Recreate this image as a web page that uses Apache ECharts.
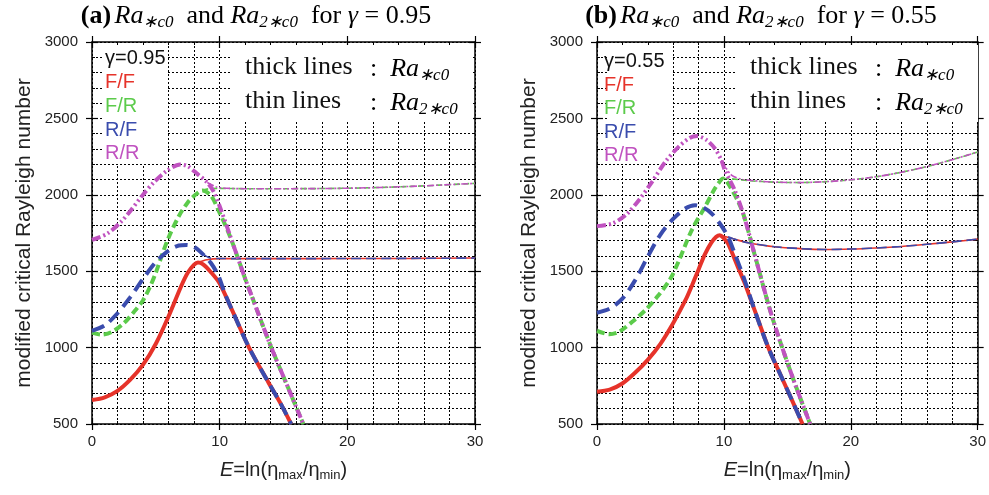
<!DOCTYPE html>
<html>
<head>
<meta charset="utf-8">
<script src="https://cdn.jsdelivr.net/npm/echarts@6/dist/echarts.min.js"></script>
<style>
  html, body { margin: 0; background: #fff; }
  #chart { width: 989px; height: 495px; }
</style>
</head>
<body>
<div id="chart"></div>
<script>
// values, as [E, Ra] pairs
// (a) gamma = 0.95
const aFFthick = [[0,657],[1,675],[2,717],[3,790],[4,888],[5,1025],[6,1205],[7,1405],[7.5,1490],[8,1543],[8.3,1557],[8.7,1545],[9.3,1495],[10,1420],[11,1240],[12.3,1000],[13.8,775],[14.8,630],[15.6,500]]
const aFFthin = [[8.3,1557],[9,1575],[10,1582],[15,1582],[20,1583],[25,1584],[30,1586]]
const aFRthick = [[0,1098],[0.7,1085],[1.5,1100],[2.5,1160],[3.3,1235],[4,1310],[4.5,1390],[5,1490],[5.5,1610],[6,1720],[6.8,1860],[7.5,1950],[8.1,2000],[8.65,2028],[9.3,1996],[9.9,1900],[10.85,1720],[12,1450],[12.5,1340],[14,1010],[15.6,690],[16.55,500]]
const aFRthin = [[8.65,2028],[9.1,2039],[10,2042],[12,2040],[15,2040],[20,2043],[25,2055],[30,2075]]
const aRFthick = [[0,1110],[1,1145],[2,1225],[3,1330],[4,1450],[5,1560],[6,1635],[6.8,1668],[7.4,1672],[8,1659],[8.64,1615],[9.3,1555],[9.9,1470],[10.4,1355],[11,1240],[12.3,1000],[13.8,775],[14.8,630],[15.6,500]]
const aRFthin = [[8.64,1615],[9.2,1588],[9.8,1583],[15,1582],[20,1583],[25,1584],[30,1586]]
const aRRthick = [[0,1705],[1.2,1746],[2.26,1822],[3.04,1898],[3.95,1996],[4.86,2083],[5.9,2159],[6.9,2198],[7.5,2187],[8.25,2137],[9.03,2080],[9.55,2017],[10.07,1909],[10.85,1725],[12,1450],[12.5,1340],[14,1010],[15.6,690],[16.55,500]]
const aRRthin = [[9.03,2080],[9.8,2050],[10.5,2043],[12,2040],[15,2040],[20,2043],[25,2055],[30,2075]]

// (b) gamma = 0.55
const bFFthick = [[0,711],[1,725],[2,765],[3,835],[4,920],[5,1025],[6,1160],[7,1315],[7.5,1410],[8,1510],[8.5,1610],[9,1685],[9.4,1725],[9.68,1736],[10,1715],[10.33,1681],[11.1,1528],[11.6,1430],[12.4,1250],[13.5,1000],[14.5,815],[15.4,650],[16.2,500]]
const bFFthin = [[9.68,1736],[10.15,1726],[11,1705],[12,1685],[14,1660],[16,1648],[18,1642],[20,1645],[22,1652],[24,1662],[26,1676],[28,1692],[30,1710]]
const bFRthick = [[0,1110],[0.96,1088],[1.74,1104],[2.78,1169],[3.82,1246],[4.86,1344],[5.78,1450],[6.43,1565],[7.47,1769],[8.51,1921],[9.29,2041],[9.8,2100],[9.94,2107],[10.33,2074],[11.1,1960],[11.6,1856],[12.4,1616],[13.8,1201],[15.4,809],[16.8,500]]
const bFRthin = [[9.94,2107],[10.5,2105],[12,2092],[14,2083],[16,2080],[18,2086],[20,2098],[22,2118],[24,2148],[26,2185],[28,2230],[30,2280]]
const bRFthick = [[0,1228],[1,1255],[2,1320],[3,1440],[4,1595],[5,1740],[6,1842],[6.95,1910],[7.73,1932],[8.38,1917],[9.03,1878],[9.68,1812],[10.33,1725],[10.85,1616],[11.6,1450],[12.4,1250],[13.5,1000],[14.5,815],[15.4,650],[16.2,500]]
const bRFthin = [[10.33,1725],[11,1705],[12,1685],[14,1660],[16,1648],[18,1642],[20,1645],[22,1652],[24,1662],[26,1676],[28,1692],[30,1710]]
const bRRthick = [[0,1795],[1.2,1812],[2.26,1867],[3.3,1965],[4.34,2085],[5.39,2216],[6.43,2314],[7.3,2372],[7.9,2384],[8.64,2358],[9.29,2303],[9.8,2227],[10.07,2162],[10.85,2031],[11.6,1856],[12.4,1616],[13.8,1201],[15.4,809],[16.8,500]]
const bRRthin = [[9.8,2227],[10.6,2129],[11.5,2100],[13,2088],[14,2083],[16,2080],[18,2086],[20,2098],[22,2118],[24,2148],[26,2185],[28,2230],[30,2280]]

const gammas = ['0.95', '0.55']
const bcNames = ['F/F', 'F/R', 'R/F', 'R/R']
const panels = [
  { FF: [aFFthick, aFFthin], FR: [aFRthick, aFRthin], RF: [aRFthick, aRFthin], RR: [aRRthick, aRRthin] },
  { FF: [bFFthick, bFFthin], FR: [bFRthick, bFRthin], RF: [bRFthick, bRFthin], RR: [bRRthick, bRRthin] },
]

const colors = { FF: '#e6332a', FR: '#5ccb4b', RF: '#3a4cad', RR: '#c052c0' }
const dashes = {
  thick: { FF: 'solid', FR: [8, 4], RF: [13, 7], RR: [9, 3, 2, 3, 2, 3] },
  thin: { FF: 'solid', FR: [6, 3], RF: [10, 5], RR: [7, 2, 2, 2, 2, 2] },
}

const sans = '"Liberation Sans", Arial, sans-serif'
const serif = '"Liberation Serif", "Times New Roman", serif'
const grids = [
  { left: 92, top: 42, width: 383, height: 382 },
  { left: 597, top: 42, width: 383, height: 382 },
]

const dotted = { color: '#000', type: [2, 2], width: 1 }

// four axes per side pair: main (labels, outer ticks), inner ticks, and the same on the opposite side
function makeAxes(dim, g) {
  const isX = dim === 'x'
  const scale = isX ? { min: 0, max: 30, interval: 10 } : { min: 500, max: 3000, interval: 500 }
  const pos = isX ? ['bottom', 'top'] : ['left', 'right']
  const base = {
    type: 'value', gridIndex: g, ...scale,
    axisLine: { show: true, onZero: false, lineStyle: { color: '#000', width: 1.5 } },
    axisLabel: { show: false },
    splitLine: { show: false },
    minorTick: { show: false, splitNumber: 5 },
  }
  const out = { show: true, inside: false, length: 6, lineStyle: { color: '#000', width: 1.2 } }
  const inn = { show: true, inside: true, length: 6, lineStyle: { color: '#000', width: 1.2 } }
  const minorIn = { show: true, splitNumber: 5, length: 3, lineStyle: { color: '#000', width: 1 } }
  const main = {
    ...base, position: pos[0], axisTick: out,
    axisLabel: { show: true, fontSize: 15, fontFamily: sans, color: '#222', margin: isX ? 10 : 14, formatter: (v) => String(v) },
    splitLine: { show: true, lineStyle: dotted },
    minorSplitLine: { show: true, lineStyle: dotted },
  }
  if (isX) {
    main.name = '{i|E}=ln(η{s|max}/η{s|min})'
    main.nameLocation = 'middle'
    main.nameGap = 34
    main.nameTextStyle = {
      fontSize: 20, fontFamily: sans, color: '#222', lineHeight: 24,
      rich: {
        i: { fontStyle: 'italic', fontSize: 20, fontFamily: sans, color: '#222', lineHeight: 24 },
        s: { fontSize: 13, fontFamily: sans, color: '#222', lineHeight: 13, padding: [11, 0, 0, 0] },
      },
    }
  } else {
    main.name = 'modified critical Rayleigh number'
    main.nameLocation = 'middle'
    main.nameGap = 57
    main.nameRotate = 90
    main.nameTextStyle = { fontSize: 21, fontFamily: sans, color: '#222' }
  }
  return [
    main,
    { ...base, position: pos[0], axisLine: { show: false, onZero: false }, axisTick: inn, minorTick: minorIn },
    { ...base, position: pos[1], axisTick: out },
    { ...base, position: pos[1], axisLine: { show: false, onZero: false }, axisTick: inn, minorTick: minorIn },
  ]
}

const xAxis = [...makeAxes('x', 0), ...makeAxes('x', 1)]
const yAxis = [...makeAxes('y', 0), ...makeAxes('y', 1)]

const series = []
panels.forEach((p, g) => {
  ;['FF', 'FR', 'RF', 'RR'].forEach((k) => {
    ;['thick', 'thin'].forEach((w, j) => {
      series.push({
        name: k + ' ' + w,
        type: 'line',
        xAxisIndex: g * 4,
        yAxisIndex: g * 4,
        data: p[k][j],
        symbol: 'none',
        smooth: 0.3,
        silent: true,
        lineStyle: { color: colors[k], width: w === 'thick' ? 4 : 1.6, type: dashes[w][k], cap: 'butt' },
      })
    })
  })
})

const titleRich = {
  b: { fontFamily: serif, fontSize: 26, fontWeight: 'bold', color: '#111', lineHeight: 30 },
  n: { fontFamily: serif, fontSize: 26, color: '#111', lineHeight: 30 },
  i: { fontFamily: serif, fontSize: 26, fontStyle: 'italic', color: '#111', lineHeight: 30 },
  s: { fontFamily: serif, fontSize: 17, fontStyle: 'italic', color: '#111', lineHeight: 17, padding: [14, 0, 0, 0] },
}
const noteRich = {
  n: { fontFamily: serif, fontSize: 26, color: '#111', lineHeight: 30 },
  i: { fontFamily: serif, fontSize: 26, fontStyle: 'italic', color: '#111', lineHeight: 30 },
  s: { fontFamily: serif, fontSize: 17, fontStyle: 'italic', color: '#111', lineHeight: 17, padding: [14, 0, 0, 0] },
}

const graphic = []
grids.forEach((gr, g) => {
  const x0 = gr.left
  // white boxes behind the labels
  graphic.push({ type: 'rect', z: 1, shape: { x: x0 + 11, y: 45, width: 63, height: 119 }, style: { fill: '#fff' } })
  graphic.push({ type: 'rect', z: 1, shape: { x: x0 + 139, y: 45, width: 242, height: 77 }, style: { fill: '#fff' } })
  const ys = g === 0 ? [58, 82, 106, 130, 153] : [61, 85, 108, 132, 155]
  const tx = x0 + (g === 0 ? 13 : 7)
  graphic.push({ type: 'text', z: 10, style: { text: 'γ=' + gammas[g], x: tx, y: ys[0], font: '20px ' + sans, fill: '#111', textVerticalAlign: 'middle' } })
  ;['FF', 'FR', 'RF', 'RR'].forEach((k, i) => {
    graphic.push({ type: 'text', z: 10, style: { text: bcNames[i], x: tx, y: ys[i + 1], font: '20px ' + sans, fill: colors[k], textVerticalAlign: 'middle' } })
  })
  // thick / thin note
  graphic.push({ type: 'text', z: 10, style: { text: 'thick lines', x: x0 + 153, y: 67, font: '26px ' + serif, fill: '#111', textVerticalAlign: 'middle' } })
  graphic.push({ type: 'text', z: 10, style: { text: 'thin lines', x: x0 + 153, y: 101, font: '26px ' + serif, fill: '#111', textVerticalAlign: 'middle' } })
  graphic.push({ type: 'text', z: 10, style: { text: '{n|:  }{i|Ra}{s|∗c0}', rich: noteRich, x: x0 + 278, y: 69, textVerticalAlign: 'middle' } })
  graphic.push({ type: 'text', z: 10, style: { text: '{n|:  }{i|Ra}{s|2∗c0}', rich: noteRich, x: x0 + 278, y: 103, textVerticalAlign: 'middle' } })
  // panel title
  const tag = g === 0 ? '(a)' : '(b)'
  graphic.push({
    type: 'text', z: 10,
    style: {
      text: '{b|' + tag + '} {i|Ra}{s|∗c0}{n|  and }{i|Ra}{s|2∗c0}{n|  for }{i|γ}{n| = ' + gammas[g] + '}',
      rich: titleRich, x: x0 + 164, y: 16, textAlign: 'center', textVerticalAlign: 'middle',
    },
  })
})

const chart = echarts.init(document.getElementById('chart'), null, { renderer: 'canvas' })
chart.setOption({
  animation: false,
  backgroundColor: '#fff',
  grid: grids,
  xAxis,
  yAxis,
  series,
  graphic,
})
</script>
</body>
</html>
